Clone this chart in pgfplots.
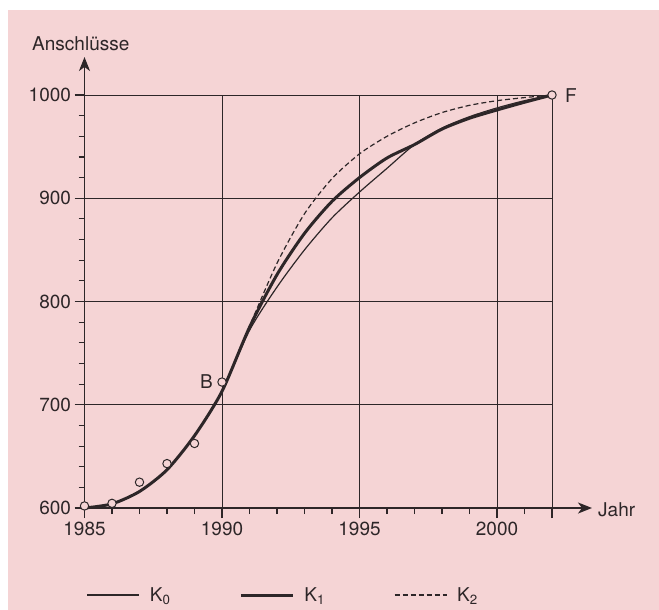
\documentclass[border=0pt]{standalone}
\usepackage{fontspec}
\setmainfont{TeX Gyre Heros}
\usepackage{pgfplots}
\pgfplotsset{compat=1.18}
\usetikzlibrary{arrows.meta}
\definecolor{bg}{RGB}{245,212,213}
\definecolor{ink}{RGB}{45,38,40}

\begin{document}
\begin{tikzpicture}[font=\fontsize{19}{22}\selectfont]
\path[use as bounding box] (0,0) rectangle (659pt,-610pt);
\fill[bg] (8pt,-10pt) rectangle (659pt,-610pt);
\begin{axis}[
  at={(84.5pt,-508pt)}, anchor=south west,
  scale only axis, width=467.5pt, height=413pt,
  xmin=1985, xmax=2002, ymin=600, ymax=1000,
  axis lines=left,
  clip=false,
  xtick={1985,1990,1995,2000,2002},
  xticklabels={1985,1990,1995,2000,},
  minor xtick={1985,...,2002},
  ytick={600,700,800,900,1000},
  minor ytick={600,620,...,1000},
  grid=major,
  major grid style={ink, line width=1pt},
  tick align=outside,
  major tick length=10pt, minor tick length=6pt,
  every tick/.style={ink, line width=1.1pt},
  x axis line style={ink, line width=1.6pt, -{Stealth[length=14pt,width=11pt,inset=4pt]}, shorten >=-40pt},
  y axis line style={ink, line width=1.6pt, -{Stealth[length=14pt,width=11pt,inset=4pt]}, shorten >=-38pt},
  ticklabel style={font=\fontsize{19}{22}\selectfont, text=ink},
  /pgf/number format/assume math mode=true,
  /pgf/number format/1000 sep={},
  legend style={draw=none, fill=none, legend columns=3,
    at={(axis description cs:0,0)}, anchor=west, xshift=2pt, yshift=-87pt,
    inner sep=0pt, nodes={inner sep=2pt, text=ink},
    /tikz/every odd column/.append style={column sep=8pt},
    /tikz/every even column/.append style={column sep=67pt}},
  legend image code/.code={\draw[#1] (0pt,0pt) -- (52pt,0pt);},
]
% K0
\addplot[ink, line width=1.2pt, smooth, tension=0.45] table {
1985 600
1986 604
1987 616
1988 637
1989 670
1990 713
1991 772
1992 814
1993 850
1994 881
1995 906
1996 929
1997 952
1998 968
1999 979
2000 987.5
2001 994.5
2002 1000
};
\addlegendentry{K\textsubscript{0}}
% K1
\addplot[ink, line width=3pt, line join=round, smooth, tension=0.45] table {
1985 600
1986 604
1987 616
1988 637
1989 670
1990 713
1991 775
1992 826
1993 866
1994 897
1995 920
1996 939
1997 952
1998 967
1999 977.5
2000 985.5
2001 993
2002 1000
};
\addlegendentry{K\textsubscript{1}}
% K2
\addplot[ink, line width=1.2pt, dash pattern=on 5pt off 3pt, smooth, tension=0.45] table {
1985 600
1986 604
1987 616
1988 637
1989 670
1990 713
1991 776
1992 837
1993 885
1994 919
1995 943
1996 960
1997 973
1998 983
1999 990
2000 994.5
2001 997.5
2002 1000
};
\addlegendentry{K\textsubscript{2}}
% Messwerte
\addplot[only marks, mark=*, mark size=4.2pt,
  mark options={draw=ink, fill=bg, line width=1pt}, forget plot] coordinates {
(1985,602) (1986,604.5) (1987,625) (1988,643) (1989,662.5) (1990,722) (2002,1000)
};
\node[anchor=east, text=ink, xshift=-5.7pt] at (axis cs:1990,722) {B};
\node[anchor=west, text=ink, xshift=9.7pt, yshift=-1pt] at (axis cs:2002,1000) {F};
\node[anchor=west, text=ink, xshift=42.7pt, yshift=-2pt] at (rel axis cs:1,0) {Jahr};
\node[anchor=base west, text=ink, xshift=-55.8pt, yshift=45pt] at (rel axis cs:0,1) {Anschlüsse};
\end{axis}
\end{tikzpicture}
\end{document}
